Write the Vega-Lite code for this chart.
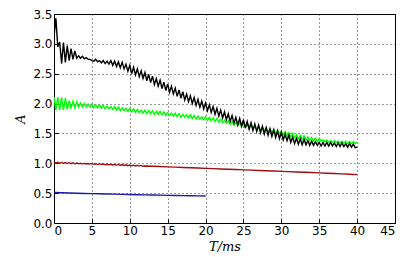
{
"$schema":"https://vega.github.io/schema/vega-lite/v6.json",
"width":341,"height":209,
"autosize":{"type":"none"},
"padding":{"left":54,"top":14,"right":20,"bottom":34},
"background":"white",
"config":{"view":{"stroke":"black","strokeWidth":1},
"axis":{"labelFont":"DejaVu Sans","labelFontSize":12,"labelColor":"black","grid":true,"gridColor":"black","gridDash":[1,3],"gridOpacity":0.8,"gridWidth":1,"domain":false,"ticks":true,"tickColor":"black","tickSize":-4,"titleFont":"DejaVu Serif","titleFontStyle":"italic","titleFontWeight":"normal","titleFontSize":13,"titleColor":"black"}},
"data":{"values":[
{"t":0,"k":3.12,"g":2.11,"r":1.018,"b":0.51},
{"t":0.25,"k":3.43,"g":1.89,"r":1.001},
{"t":0.5,"k":2.95,"g":2.11,"r":1.016},
{"t":0.75,"k":3.03,"g":1.89,"r":0.999},
{"t":1,"k":2.67,"g":2.10,"r":1.014,"b":0.506},
{"t":1.25,"k":3.02,"g":1.89,"r":0.997},
{"t":1.5,"k":2.69,"g":2.09,"r":1.012},
{"t":1.75,"k":2.97,"g":1.90,"r":0.995},
{"t":2,"k":2.72,"g":2.05,"r":1.010,"b":0.502},
{"t":2.25,"k":2.92,"g":1.93,"r":0.993},
{"t":2.5,"k":2.74,"g":2.04,"r":1.008},
{"t":2.75,"k":2.88,"g":1.93,"r":0.991},
{"t":3,"k":2.76,"g":2.03,"r":1.004,"b":0.498},
{"t":3.25,"k":2.80,"g":1.94,"r":0.991},
{"t":3.5,"k":2.76,"g":2.01,"r":1.000},
{"t":3.75,"k":2.79,"g":1.94,"r":0.991},
{"t":4,"k":2.75,"g":2.00,"r":0.998,"b":0.495},
{"t":4.25,"k":2.77,"g":1.94,"r":0.989},
{"t":4.5,"k":2.74,"g":1.99,"r":0.996},
{"t":4.75,"k":2.74,"g":1.94,"r":0.987},
{"t":5,"k":2.72,"g":1.99,"r":0.994,"b":0.492},
{"t":5.25,"k":2.71,"g":1.93,"r":0.985},
{"t":5.5,"k":2.74,"g":1.98,"r":0.992},
{"t":5.75,"k":2.70,"g":1.93,"r":0.982},
{"t":6,"k":2.72,"g":1.98,"r":0.989,"b":0.489},
{"t":6.25,"k":2.68,"g":1.92,"r":0.980},
{"t":6.5,"k":2.72,"g":1.97,"r":0.987},
{"t":6.75,"k":2.67,"g":1.91,"r":0.977},
{"t":7,"k":2.71,"g":1.96,"r":0.984,"b":0.486},
{"t":7.25,"k":2.66,"g":1.91,"r":0.975},
{"t":7.5,"k":2.72,"g":1.95,"r":0.982},
{"t":7.75,"k":2.64,"g":1.90,"r":0.972},
{"t":8,"k":2.71,"g":1.95,"r":0.979,"b":0.483},
{"t":8.25,"k":2.62,"g":1.89,"r":0.970},
{"t":8.5,"k":2.70,"g":1.94,"r":0.977},
{"t":8.75,"k":2.60,"g":1.88,"r":0.967},
{"t":9,"k":2.69,"g":1.93,"r":0.975,"b":0.480},
{"t":9.25,"k":2.58,"g":1.88,"r":0.963},
{"t":9.5,"k":2.66,"g":1.92,"r":0.974},
{"t":9.75,"k":2.54,"g":1.87,"r":0.960},
{"t":10,"k":2.64,"g":1.92,"r":0.971,"b":0.477},
{"t":10.25,"k":2.50,"g":1.86,"r":0.958},
{"t":10.5,"k":2.61,"g":1.91,"r":0.969},
{"t":10.75,"k":2.48,"g":1.85,"r":0.955},
{"t":11,"k":2.58,"g":1.90,"r":0.966,"b":0.474},
{"t":11.25,"k":2.45,"g":1.85,"r":0.953},
{"t":11.5,"k":2.55,"g":1.89,"r":0.964},
{"t":11.75,"k":2.42,"g":1.84,"r":0.950},
{"t":12,"k":2.52,"g":1.89,"r":0.955,"b":0.471},
{"t":12.25,"k":2.38,"g":1.83},
{"t":12.5,"k":2.49,"g":1.88},
{"t":12.75,"k":2.35,"g":1.83},
{"t":13,"k":2.46,"g":1.88,"r":0.950,"b":0.468},
{"t":13.25,"k":2.32,"g":1.82},
{"t":13.5,"k":2.42,"g":1.87},
{"t":13.75,"k":2.29,"g":1.82},
{"t":14,"k":2.39,"g":1.87,"r":0.945,"b":0.466},
{"t":14.25,"k":2.25,"g":1.81},
{"t":14.5,"k":2.36,"g":1.86},
{"t":14.75,"k":2.22,"g":1.80},
{"t":15,"k":2.33,"g":1.85,"r":0.940,"b":0.463},
{"t":15.25,"k":2.19,"g":1.80},
{"t":15.5,"k":2.29,"g":1.84},
{"t":15.75,"k":2.16,"g":1.79},
{"t":16,"k":2.26,"g":1.84,"r":0.935,"b":0.461},
{"t":16.25,"k":2.12,"g":1.78},
{"t":16.5,"k":2.23,"g":1.83},
{"t":16.75,"k":2.09,"g":1.77},
{"t":17,"k":2.20,"g":1.82,"r":0.930,"b":0.459},
{"t":17.25,"k":2.06,"g":1.77},
{"t":17.5,"k":2.16,"g":1.81},
{"t":17.75,"k":2.03,"g":1.76},
{"t":18,"k":2.13,"g":1.81,"r":0.925,"b":0.457},
{"t":18.25,"k":2.00,"g":1.75},
{"t":18.5,"k":2.10,"g":1.80},
{"t":18.75,"k":1.97,"g":1.74},
{"t":19,"k":2.07,"g":1.79,"r":0.920,"b":0.455},
{"t":19.25,"k":1.94,"g":1.74},
{"t":19.5,"k":2.04,"g":1.78},
{"t":19.75,"k":1.91,"g":1.73},
{"t":20,"k":2.01,"g":1.78,"r":0.915,"b":0.453},
{"t":20.25,"k":1.88,"g":1.72},
{"t":20.5,"k":1.98,"g":1.77},
{"t":20.75,"k":1.85,"g":1.71},
{"t":21,"k":1.95,"g":1.76,"r":0.910},
{"t":21.25,"k":1.82,"g":1.70},
{"t":21.5,"k":1.92,"g":1.75},
{"t":21.75,"k":1.79,"g":1.69},
{"t":22,"k":1.89,"g":1.74,"r":0.905},
{"t":22.25,"k":1.76,"g":1.68},
{"t":22.5,"k":1.86,"g":1.72},
{"t":22.75,"k":1.73,"g":1.67},
{"t":23,"k":1.83,"g":1.71,"r":0.900},
{"t":23.25,"k":1.70,"g":1.65},
{"t":23.5,"k":1.80,"g":1.70},
{"t":23.75,"k":1.67,"g":1.64},
{"t":24,"k":1.77,"g":1.69,"r":0.895},
{"t":24.25,"k":1.64,"g":1.63},
{"t":24.5,"k":1.75,"g":1.67},
{"t":24.75,"k":1.62,"g":1.62},
{"t":25,"k":1.73,"g":1.66,"r":0.890},
{"t":25.25,"k":1.59,"g":1.60},
{"t":25.5,"k":1.70,"g":1.65},
{"t":25.75,"k":1.57,"g":1.59},
{"t":26,"k":1.68,"g":1.64,"r":0.885},
{"t":26.25,"k":1.55,"g":1.58},
{"t":26.5,"k":1.66,"g":1.62},
{"t":26.75,"k":1.53,"g":1.57},
{"t":27,"k":1.64,"g":1.61,"r":0.880},
{"t":27.25,"k":1.51,"g":1.55},
{"t":27.5,"k":1.62,"g":1.60},
{"t":27.75,"k":1.49,"g":1.54},
{"t":28,"k":1.60,"g":1.59,"r":0.875},
{"t":28.25,"k":1.47,"g":1.53},
{"t":28.5,"k":1.58,"g":1.57},
{"t":28.75,"k":1.45,"g":1.52},
{"t":29,"k":1.56,"g":1.56,"r":0.870},
{"t":29.25,"k":1.43,"g":1.50},
{"t":29.5,"k":1.54,"g":1.55},
{"t":29.75,"k":1.41,"g":1.49},
{"t":30,"k":1.52,"g":1.54,"r":0.865},
{"t":30.25,"k":1.39,"g":1.47},
{"t":30.5,"k":1.49,"g":1.53},
{"t":30.75,"k":1.38,"g":1.46},
{"t":31,"k":1.47,"g":1.51,"r":0.860},
{"t":31.25,"k":1.35,"g":1.44},
{"t":31.5,"k":1.44,"g":1.50},
{"t":31.75,"k":1.33,"g":1.43},
{"t":32,"k":1.42,"g":1.48,"r":0.855},
{"t":32.25,"k":1.32,"g":1.41},
{"t":32.5,"k":1.41,"g":1.47},
{"t":32.75,"k":1.31,"g":1.40},
{"t":33,"k":1.40,"g":1.46,"r":0.850},
{"t":33.25,"k":1.31,"g":1.39},
{"t":33.5,"k":1.38,"g":1.44},
{"t":33.75,"k":1.30,"g":1.38},
{"t":34,"k":1.37,"g":1.43,"r":0.845},
{"t":34.25,"k":1.30,"g":1.37},
{"t":34.5,"k":1.36,"g":1.42},
{"t":34.75,"k":1.30,"g":1.36},
{"t":35,"k":1.35,"g":1.42,"r":0.840},
{"t":35.25,"k":1.29,"g":1.37},
{"t":35.5,"k":1.35,"g":1.39},
{"t":35.75,"k":1.29,"g":1.36},
{"t":36,"k":1.35,"g":1.39,"r":0.834},
{"t":36.25,"k":1.29,"g":1.35},
{"t":36.5,"k":1.35,"g":1.38},
{"t":36.75,"k":1.29,"g":1.35},
{"t":37,"k":1.34,"g":1.38,"r":0.828},
{"t":37.25,"k":1.28,"g":1.35},
{"t":37.5,"k":1.34,"g":1.37},
{"t":37.75,"k":1.28,"g":1.34},
{"t":38,"k":1.34,"g":1.37,"r":0.822},
{"t":38.25,"k":1.28,"g":1.34},
{"t":38.5,"k":1.33,"g":1.37},
{"t":38.75,"k":1.27,"g":1.33},
{"t":39,"k":1.33,"g":1.36,"r":0.816},
{"t":39.25,"k":1.27,"g":1.33},
{"t":39.5,"k":1.32,"g":1.36},
{"t":39.75,"k":1.26,"g":1.33},
{"t":40,"k":1.27,"g":1.35,"r":0.810}
]},
"transform":[
{"fold":["g","k","r","b"],"as":["s","v"]},
{"filter":"isValid(datum.v)"}
],
"mark":{"type":"line","strokeWidth":1.4,"clip":true},
"encoding":{
"x":{"field":"t","type":"quantitative","scale":{"domain":[0,45],"nice":false},"axis":{"values":[0,5,10,15,20,25,30,35,40,45],"format":"d","title":"T/ms","labelPadding":6,"titlePadding":4}},
"y":{"field":"v","type":"quantitative","scale":{"domain":[0,3.5],"nice":false},"axis":{"values":[0,0.5,1,1.5,2,2.5,3,3.5],"format":".1f","title":"A","labelPadding":6,"titlePadding":5}},
"color":{"field":"s","type":"nominal","scale":{"domain":["g","k","r","b"],"range":["#00ff00","#000000","#9a1010","#1a1aa0"]},"legend":null},
"order":{"field":"t","type":"quantitative"}
}
}
